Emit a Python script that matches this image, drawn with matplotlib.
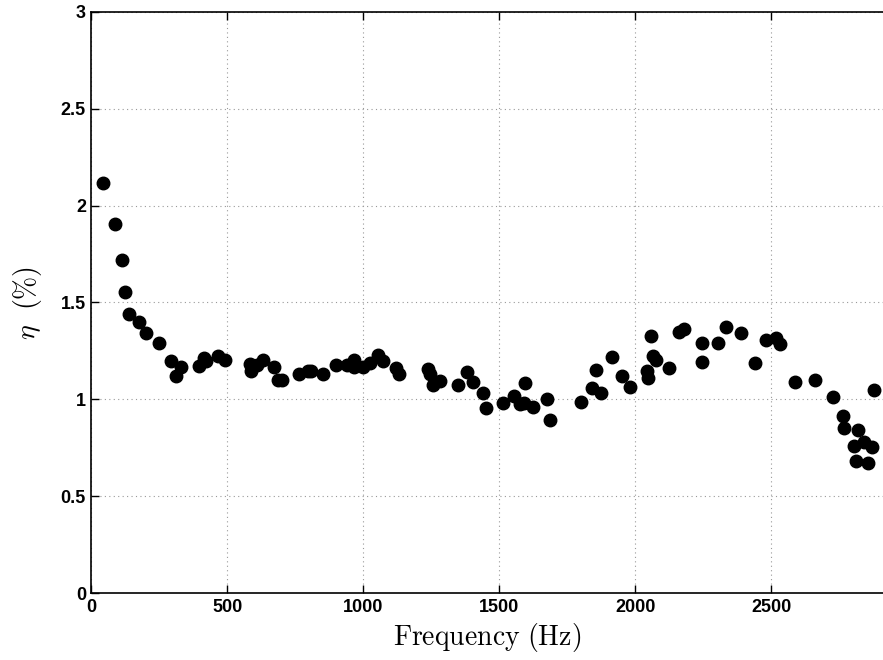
import matplotlib
matplotlib.use("Agg")
import matplotlib.pyplot as plt

plt.rcParams['mathtext.fontset'] = 'cm'

freq_hz = [44, 88, 111, 125, 137, 174, 200, 250, 294, 309, 330, 394, 412, 422, 465, 492,
           582, 586, 607, 629, 672, 685, 699, 764, 797, 807, 852, 899, 938, 965, 965, 1000,
           1024, 1053, 1071, 1119, 1131, 1238, 1245, 1255, 1282, 1348, 1381, 1403, 1440, 1452,
           1512, 1554, 1577, 1590, 1592, 1624, 1673, 1685, 1801, 1839, 1856, 1872, 1913, 1950,
           1980, 2044, 2047, 2056, 2066, 2077, 2125, 2161, 2179, 2244, 2244, 2302, 2332, 2388,
           2439, 2480, 2515, 2530, 2587, 2660, 2726, 2764, 2765, 2817, 2802, 2839, 2870, 2809,
           2856, 2876]
eta_pct = [2.115, 1.907, 1.721, 1.553, 1.438, 1.397, 1.342, 1.292, 1.196, 1.121, 1.166, 1.174,
           1.213, 1.196, 1.224, 1.203, 1.184, 1.148, 1.179, 1.203, 1.166, 1.100, 1.100, 1.130,
           1.147, 1.147, 1.133, 1.177, 1.177, 1.203, 1.169, 1.169, 1.186, 1.229, 1.198, 1.160,
           1.130, 1.158, 1.130, 1.073, 1.094, 1.073, 1.143, 1.092, 1.032, 0.958, 0.984, 1.020,
           0.975, 0.982, 1.083, 0.960, 1.003, 0.896, 0.986, 1.059, 1.152, 1.033, 1.220, 1.122,
           1.064, 1.148, 1.109, 1.326, 1.224, 1.203, 1.162, 1.349, 1.361, 1.292, 1.191, 1.289,
           1.371, 1.345, 1.186, 1.306, 1.318, 1.284, 1.090, 1.102, 1.013, 0.917, 0.852, 0.842,
           0.762, 0.780, 0.754, 0.680, 0.674, 1.050]

x_ticks = [0, 500, 1000, 1500, 2000, 2500]
y_ticks = [0, 0.5, 1, 1.5, 2, 2.5, 3]
y_tick_labels = ['0', '0.5', '1', '1.5', '2', '2.5', '3']

fig = plt.figure(figsize=(8.83, 6.60), dpi=100)
ax = fig.add_axes([0.1036, 0.1011, 0.8964, 0.8812])

ax.plot(freq_hz, eta_pct, linestyle='none', marker='o', markersize=9,
        markerfacecolor='black', markeredgecolor='black', zorder=3)

ax.set_xlim(0, 2910)
ax.set_ylim(0, 3)
ax.set_xticks(x_ticks)
ax.set_yticks(y_ticks)
ax.set_yticklabels(y_tick_labels)

ax.grid(True, linestyle=(0, (1, 3)), color='#999999', linewidth=0.8)
ax.tick_params(direction='in', top=True, right=False, length=6, width=1,
               labelsize=13, pad=4)
for lbl in ax.get_xticklabels() + ax.get_yticklabels():
    lbl.set_fontfamily('Liberation Sans')
    lbl.set_fontweight('bold')

for s in ['left', 'bottom', 'top']:
    ax.spines[s].set_linewidth(1.2)
ax.spines['right'].set_visible(False)

ax.set_xlabel(r'$\mathrm{Frequency\ (Hz)}$', fontsize=20, labelpad=4)
ax.set_ylabel(r'$\eta\ \ \mathrm{(\%)}$', fontsize=20, labelpad=12)

fig.savefig('out.png', dpi=100)
